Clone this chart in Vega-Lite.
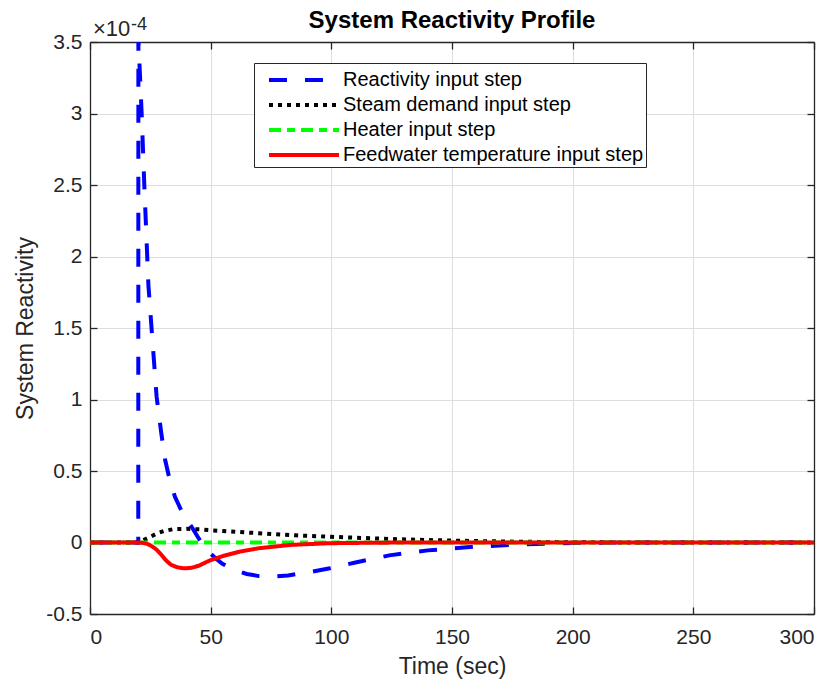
{
  "$schema": "https://vega.github.io/schema/vega-lite/v6.json",
  "width": 724,
  "height": 572,
  "autosize": "none",
  "padding": {"left": 90, "top": 42, "right": 21, "bottom": 70},
  "background": "white",
  "title": {"text": "System Reactivity Profile", "fontSize": 24, "fontWeight": "bold", "font": "Liberation Sans", "color": "#000000", "offset": 0, "dy": 17, "frame": "group"},
  "config": {
    "view": {"stroke": null},
    "font": "Liberation Sans",
    "axis": {
      "domainColor": "#262626",
      "domainWidth": 1.3,
      "tickColor": "#262626",
      "tickSize": -7,
      "tickWidth": 1.3,
      "gridColor": "#dedede",
      "gridWidth": 1,
      "labelFont": "Liberation Sans",
      "labelFontSize": 21,
      "labelColor": "#262626",
      "titleFont": "Liberation Sans",
      "titleFontSize": 23,
      "titleFontWeight": "normal",
      "titleColor": "#262626"
    },
    "legend": {
      "orient": "none",
      "legendX": 164,
      "legendY": 21,
      "strokeColor": "#262626",
      "fillColor": "white",
      "padding": 2,
      "labelFont": "Liberation Sans",
      "labelFontSize": 20,
      "labelColor": "#000000",
      "labelOffset": 46,
      "labelLimit": 400,
      "symbolOffset": 11,
      "symbolType": "M-1,0L4.385,0",
      "symbolSize": 676,
      "symbolStrokeWidth": 4,
      "rowPadding": 0
    }
  },
  "datasets": {
    "curves": [
      {"series": "Reactivity input step", "t": 0, "v": 0},
      {"series": "Reactivity input step", "t": 20, "v": 0},
      {"series": "Reactivity input step", "t": 20.05, "v": 3.52},
      {"series": "Reactivity input step", "t": 21.4, "v": 3.0},
      {"series": "Reactivity input step", "t": 22.5, "v": 2.5},
      {"series": "Reactivity input step", "t": 24.2, "v": 1.8},
      {"series": "Reactivity input step", "t": 25.5, "v": 1.5},
      {"series": "Reactivity input step", "t": 27.6, "v": 1.02},
      {"series": "Reactivity input step", "t": 29.5, "v": 0.77},
      {"series": "Reactivity input step", "t": 31.1, "v": 0.58},
      {"series": "Reactivity input step", "t": 33, "v": 0.44},
      {"series": "Reactivity input step", "t": 35.2, "v": 0.32},
      {"series": "Reactivity input step", "t": 38.5, "v": 0.2},
      {"series": "Reactivity input step", "t": 42.1, "v": 0.11},
      {"series": "Reactivity input step", "t": 45, "v": 0.03},
      {"series": "Reactivity input step", "t": 48.3, "v": -0.05},
      {"series": "Reactivity input step", "t": 52, "v": -0.11},
      {"series": "Reactivity input step", "t": 55, "v": -0.15},
      {"series": "Reactivity input step", "t": 59.4, "v": -0.19},
      {"series": "Reactivity input step", "t": 65, "v": -0.22},
      {"series": "Reactivity input step", "t": 70, "v": -0.235},
      {"series": "Reactivity input step", "t": 75, "v": -0.24},
      {"series": "Reactivity input step", "t": 82, "v": -0.23},
      {"series": "Reactivity input step", "t": 90, "v": -0.21},
      {"series": "Reactivity input step", "t": 99.4, "v": -0.18},
      {"series": "Reactivity input step", "t": 110, "v": -0.14},
      {"series": "Reactivity input step", "t": 124, "v": -0.09},
      {"series": "Reactivity input step", "t": 140, "v": -0.055},
      {"series": "Reactivity input step", "t": 159, "v": -0.03},
      {"series": "Reactivity input step", "t": 180, "v": -0.012},
      {"series": "Reactivity input step", "t": 200, "v": -0.004},
      {"series": "Reactivity input step", "t": 220, "v": 0},
      {"series": "Reactivity input step", "t": 300, "v": 0},
      {"series": "Steam demand input step", "t": 0, "v": 0},
      {"series": "Steam demand input step", "t": 20, "v": 0},
      {"series": "Steam demand input step", "t": 22, "v": 0.015},
      {"series": "Steam demand input step", "t": 25, "v": 0.04},
      {"series": "Steam demand input step", "t": 28, "v": 0.065},
      {"series": "Steam demand input step", "t": 31, "v": 0.082},
      {"series": "Steam demand input step", "t": 34.5, "v": 0.093},
      {"series": "Steam demand input step", "t": 40, "v": 0.096},
      {"series": "Steam demand input step", "t": 45, "v": 0.092},
      {"series": "Steam demand input step", "t": 55, "v": 0.08},
      {"series": "Steam demand input step", "t": 70, "v": 0.065},
      {"series": "Steam demand input step", "t": 85, "v": 0.05},
      {"series": "Steam demand input step", "t": 100, "v": 0.04},
      {"series": "Steam demand input step", "t": 120, "v": 0.027},
      {"series": "Steam demand input step", "t": 140, "v": 0.017},
      {"series": "Steam demand input step", "t": 160, "v": 0.01},
      {"series": "Steam demand input step", "t": 180, "v": 0.005},
      {"series": "Steam demand input step", "t": 200, "v": 0.002},
      {"series": "Steam demand input step", "t": 230, "v": 0},
      {"series": "Steam demand input step", "t": 300, "v": 0},
      {"series": "Heater input step", "t": 0, "v": 0},
      {"series": "Heater input step", "t": 20, "v": 0},
      {"series": "Heater input step", "t": 100, "v": 0},
      {"series": "Heater input step", "t": 200, "v": 0},
      {"series": "Heater input step", "t": 300, "v": 0},
      {"series": "Feedwater temperature input step", "t": 0, "v": 0},
      {"series": "Feedwater temperature input step", "t": 20, "v": 0},
      {"series": "Feedwater temperature input step", "t": 22, "v": -0.003},
      {"series": "Feedwater temperature input step", "t": 24, "v": -0.012},
      {"series": "Feedwater temperature input step", "t": 26, "v": -0.03},
      {"series": "Feedwater temperature input step", "t": 27.6, "v": -0.05},
      {"series": "Feedwater temperature input step", "t": 29, "v": -0.075},
      {"series": "Feedwater temperature input step", "t": 30.5, "v": -0.105},
      {"series": "Feedwater temperature input step", "t": 31.8, "v": -0.13},
      {"series": "Feedwater temperature input step", "t": 33.5, "v": -0.155},
      {"series": "Feedwater temperature input step", "t": 35.9, "v": -0.172},
      {"series": "Feedwater temperature input step", "t": 38, "v": -0.179},
      {"series": "Feedwater temperature input step", "t": 40, "v": -0.18},
      {"series": "Feedwater temperature input step", "t": 42, "v": -0.177},
      {"series": "Feedwater temperature input step", "t": 45, "v": -0.163},
      {"series": "Feedwater temperature input step", "t": 49.7, "v": -0.125},
      {"series": "Feedwater temperature input step", "t": 55, "v": -0.095},
      {"series": "Feedwater temperature input step", "t": 62, "v": -0.064},
      {"series": "Feedwater temperature input step", "t": 70, "v": -0.04},
      {"series": "Feedwater temperature input step", "t": 83, "v": -0.017},
      {"series": "Feedwater temperature input step", "t": 99, "v": -0.005},
      {"series": "Feedwater temperature input step", "t": 120, "v": -0.001},
      {"series": "Feedwater temperature input step", "t": 150, "v": 0},
      {"series": "Feedwater temperature input step", "t": 300, "v": 0}
    ]
  },
  "layer": [
    {
      "data": {"name": "curves"},
      "mark": {"type": "line", "clip": true, "strokeWidth": 4},
      "encoding": {
        "x": {"field": "t", "type": "quantitative", "scale": {"domain": [0, 300], "nice": false},
              "axis": {"title": "Time (sec)", "values": [0, 50, 100, 150, 200, 250, 300], "labelPadding": 19, "titlePadding": 8}},
        "y": {"field": "v", "type": "quantitative", "scale": {"domain": [-0.5, 3.5], "nice": false, "zero": false},
              "axis": {"title": "System Reactivity", "values": [-0.5, 0, 0.5, 1, 1.5, 2, 2.5, 3, 3.5], "labelExpr": "'' + datum.value", "labelPadding": 15, "titlePadding": 8}},
        "color": {"field": "series", "type": "nominal", "legend": {"title": null},
                  "scale": {"domain": ["Reactivity input step", "Steam demand input step", "Heater input step", "Feedwater temperature input step"],
                            "range": ["#0000ff", "#000000", "#00ff00", "#ff0000"]}},
        "strokeDash": {"field": "series", "type": "nominal", "legend": {"title": null},
                  "scale": {"domain": ["Reactivity input step", "Steam demand input step", "Heater input step", "Feedwater temperature input step"],
                            "range": [[18, 18], [4, 5], [12, 6, 8, 6], [1, 0]]}}
      }
    },
    {
      "data": {"name": "curves"},
      "mark": {"type": "line", "opacity": 0},
      "encoding": {
        "x": {"field": "t", "type": "quantitative", "scale": {"domain": [0, 300], "nice": false},
              "axis": {"orient": "top", "labels": false, "title": null, "grid": false, "values": [0, 50, 100, 150, 200, 250, 300]}},
        "y": {"field": "v", "type": "quantitative", "scale": {"domain": [-0.5, 3.5], "nice": false, "zero": false},
              "axis": {"orient": "right", "labels": false, "title": null, "grid": false, "values": [-0.5, 0, 0.5, 1, 1.5, 2, 2.5, 3, 3.5]}}
      }
    },
    {
      "data": {"values": [{"label": "×10"}]},
      "mark": {"type": "text", "align": "left", "baseline": "alphabetic", "dx": 3, "dy": -6, "fontSize": 22, "color": "#262626", "font": "Liberation Sans"},
      "encoding": {"x": {"datum": 0, "axis": null}, "y": {"datum": 3.5, "axis": null}, "text": {"field": "label"}}
    },
    {
      "data": {"values": [{"label": "-4"}]},
      "mark": {"type": "text", "align": "left", "baseline": "alphabetic", "dx": 41, "dy": -12, "fontSize": 18, "color": "#262626", "font": "Liberation Sans"},
      "encoding": {"x": {"datum": 0, "axis": null}, "y": {"datum": 3.5, "axis": null}, "text": {"field": "label"}}
    }
  ],
  "resolve": {"axis": {"x": "independent", "y": "independent"}}
}
